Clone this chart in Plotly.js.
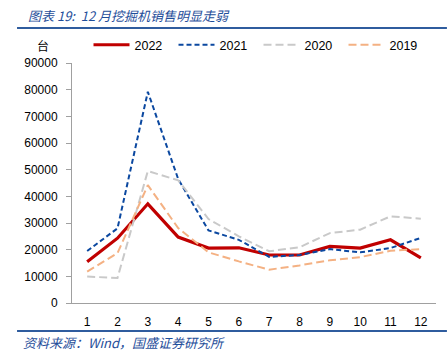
<!DOCTYPE html>
<html><head><meta charset="utf-8">
<script src="https://cdn.plot.ly/plotly-3.0.1.min.js"></script>
<style>html,body{margin:0;padding:0;background:#fff}#c{width:447px;height:364px}</style>
</head><body><div id="c"></div>
<script>
const months = ['1','2','3','4','5','6','7','8','9','10','11','12'];
const s2022 = [15500, 24300, 37200, 24700, 20600, 20700, 18000, 18000, 21200, 20600, 23700, 16900];
const s2021 = [19500, 28000, 79200, 46500, 27200, 23700, 17300, 18000, 20200, 19000, 20600, 24400];
const s2020 = [9900, 9400, 49500, 46000, 31500, 25000, 19400, 20900, 26200, 27500, 32500, 31600];
const s2019 = [11800, 18700, 44200, 28100, 19000, 15600, 12500, 14100, 16000, 17200, 19600, 20200];
const yTicks = [0,10000,20000,30000,40000,50000,60000,70000,80000,90000];

const traces = [
  {x: months, y: s2022, name: '2022', type: 'scatter', mode: 'lines', line: {color: '#C00000', width: 3.2}},
  {x: months, y: s2021, name: '2021', type: 'scatter', mode: 'lines', line: {color: '#0B48A0', width: 2, dash: '5px,3px'}},
  {x: months, y: s2020, name: '2020', type: 'scatter', mode: 'lines', line: {color: '#C9C9C9', width: 2, dash: '8px,4px'}},
  {x: months, y: s2019, name: '2019', type: 'scatter', mode: 'lines', line: {color: '#F4B183', width: 2, dash: '8px,4px'}}
];
const font = {family: 'Liberation Sans, Arial, sans-serif', size: 12, color: '#000'};
const layout = {
  width: 447, height: 364,
  margin: {l: 72, r: 11, t: 63, b: 61},
  paper_bgcolor: '#fff', plot_bgcolor: '#fff',
  showlegend: true,
  font: font,
  legend: {orientation: 'h', xref: 'container', x: 0.198, xanchor: 'left', yref: 'container', y: 0.876, yanchor: 'middle',
    font: {family: 'Liberation Sans, Arial, sans-serif', size: 12.5}, entrywidth: 34, bgcolor: 'rgba(0,0,0,0)', tracegroupgap: 0, itemwidth: 36},
  xaxis: {type: 'category', categoryarray: months, range: [-0.5, 11.5], showgrid: false, zeroline: false,
    showline: true, linecolor: '#A0A0A0', linewidth: 1, ticks: '', tickfont: font, ticklabelstandoff: 8, fixedrange: true},
  yaxis: {range: [0, 90000], tickvals: yTicks, ticktext: yTicks.map(String), showgrid: false, zeroline: false,
    showline: true, linecolor: '#A0A0A0', linewidth: 1, ticks: 'outside', ticklen: 5, tickcolor: '#A0A0A0',
    tickfont: font, ticklabelstandoff: 6, fixedrange: true},
  shapes: [
    {type: 'line', xref: 'paper', yref: 'paper', x0: -0.151, x1: 1.03, y0: 1.1458, y1: 1.1458, line: {color: '#2F5C9E', width: 2}},
    {type: 'line', xref: 'paper', yref: 'paper', x0: -0.151, x1: 1.03, y0: -0.1167, y1: -0.1167, line: {color: '#2F5C9E', width: 2}}
  ],
  annotations: [
    {text: '<i>图表&nbsp;19:&nbsp;&nbsp;12&nbsp;月挖掘机销售明显走弱</i>', xref: 'paper', yref: 'paper', x: -0.126, y: 1.2, xanchor: 'left', yanchor: 'middle', showarrow: false,
      font: {family: 'Noto Sans CJK SC', size: 13, color: '#1F4E9A'}},
    {text: '台', xref: 'paper', yref: 'paper', x: -0.079, y: 1.075, xanchor: 'center', yanchor: 'middle', showarrow: false,
      font: {family: 'Noto Sans CJK SC', size: 12, color: '#000'}},
    {text: '<i>资料来源：Wind，国盛证券研究所</i>', xref: 'paper', yref: 'paper', x: -0.14, y: -0.163, xanchor: 'left', yanchor: 'middle', showarrow: false,
      font: {family: 'Noto Sans CJK SC', size: 13, color: '#1F4E9A'}}
  ]
};
Plotly.newPlot('c', traces, layout, {displayModeBar: false, staticPlot: true});
</script></body></html>
